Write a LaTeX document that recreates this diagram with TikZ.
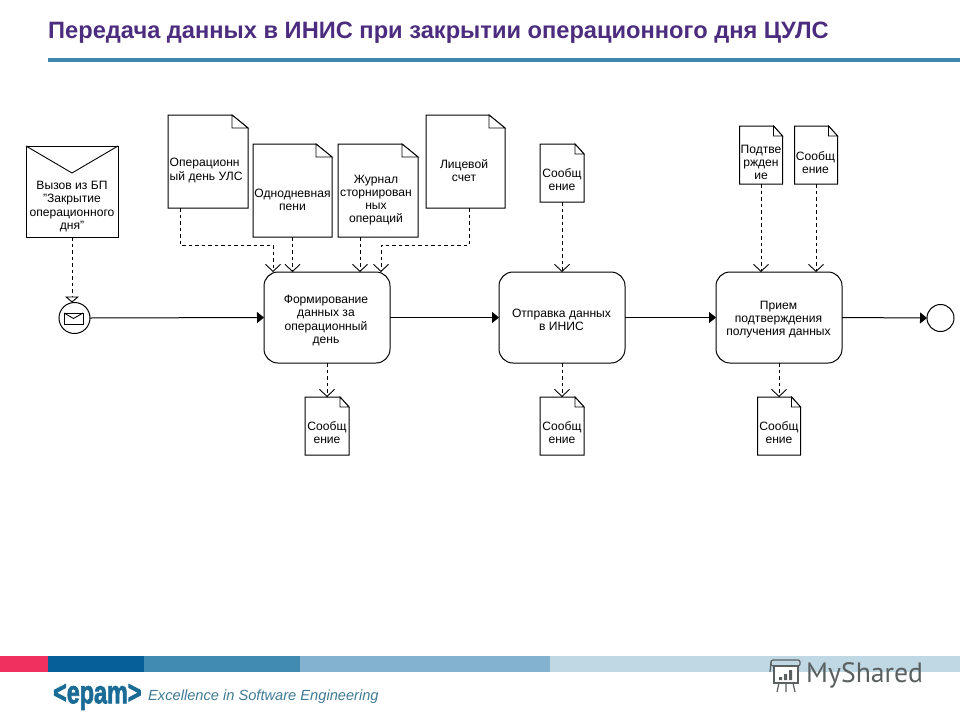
\documentclass[tikz,border=0pt]{standalone}
\usepackage{fontspec}
\setmainfont{Liberation Sans}
\newfontfamily\wmfont{PT Sans}
\newfontfamily\logofont{Liberation Sans Bold}[FakeBold=2.5]
\usetikzlibrary{arrows.meta}
\definecolor{titlepurple}{HTML}{4B2C7E}
\definecolor{rulecol}{HTML}{3F87AD}
\definecolor{barred}{HTML}{F0305F}
\definecolor{barA}{HTML}{05609A}
\definecolor{barB}{HTML}{418AB0}
\definecolor{barC}{HTML}{82B2CF}
\definecolor{barD}{HTML}{C0D8E4}
\definecolor{logoblue}{HTML}{1A6C96}
\definecolor{tagcol}{HTML}{3F7A95}
\definecolor{wmcol}{HTML}{5A5F60}
\tikzset{
  shapeline/.style={draw=black,line width=1pt,fill=white},
  docbody/.style={inner sep=0pt,outer sep=0pt},
  dtext/.style={inner sep=0pt,align=center,font=\fontsize{12.1}{13.1}\selectfont},
  procbox/.style={shapeline,rounded corners=14pt,minimum width=126pt,minimum height=91pt,inner sep=0pt,outer sep=0pt},
  flow/.style={draw=black,line width=1pt,-{Triangle[length=7pt,width=11pt]}},
  assoc/.style={draw=black,line width=0.9pt,dash pattern=on 3.5pt off 3pt,-{Straight Barb[length=7pt,width=15pt]}},
  trig/.style={draw=black,line width=0.9pt,dash pattern=on 3.5pt off 3pt,-{Triangle[open,length=6pt,width=14pt,fill=white]}},
  circlenode/.style={shapeline,circle,inner sep=0pt,outer sep=0pt}
}
% name, cx, cy, w, h, fold w, fold h
\newcommand{\docbox}[7]{%
  \node[docbody,minimum width=#4pt,minimum height=#5pt] (#1) at (#2,#3) {};
  \draw[shapeline,line join=miter] (#1.south west) -- (#1.south east) -- ([yshift=-#7pt]#1.north east) -- ([xshift=-#6pt]#1.north east) -- (#1.north west) -- cycle;
  \draw[line width=0.9pt,fill=white] ([xshift=-#6pt]#1.north east) -- ([xshift=-#6pt,yshift=-#7pt]#1.north east) -- ([yshift=-#7pt]#1.north east) -- cycle;
}
\begin{document}
\begin{tikzpicture}[x=1pt,y=-1pt]
\useasboundingbox (0,0) rectangle (960,720);
% title
\node[anchor=west,inner sep=0pt,text=titlepurple,font=\fontsize{23.65}{26}\selectfont\bfseries] (title) at (48,32.5) {Передача данных в ИНИС при закрытии операционного дня ЦУЛС};
\fill[rulecol] (48,58) rectangle (960,62);
% documents
\docbox{d1}{208}{161.5}{80}{93}{16}{13}
\docbox{d2}{292.5}{190.5}{79}{93}{16}{13}
\docbox{d3}{378}{190.5}{80}{93}{16}{13}
\docbox{d4}{465.5}{161.5}{79}{93}{16}{13}
\docbox{m1}{562}{173}{44}{58}{9}{10}
\docbox{m2}{761}{155}{43}{58}{9}{10}
\docbox{m3}{816}{155}{43}{58}{9}{10}
\docbox{m4}{327}{426}{44}{58}{9}{10}
\docbox{m5}{562}{426}{44}{58}{9}{10}
\docbox{m6}{779}{426}{43}{58}{9}{10}
\node[dtext,align=left,anchor=west] (t1) at (169.5,170.5) {Операционн\\ый день УЛС};
\node[dtext] (t2) at (292.5,199.5) {Однодневная\\пени};
\node[dtext] (t3) at (376,200) {Журнал\\сторнирован\\ных\\операций};
\node[dtext] (t4) at (464,170.5) {Лицевой\\счет};
\node[dtext] (t5) at (562,179.5) {Сообщ\\ение};
\node[dtext] (t6) at (761,162.5) {Подтве\\ржден\\ие};
\node[dtext] (t7) at (815.5,162.5) {Сообщ\\ение};
\node[dtext] (t8) at (327,432.5) {Сообщ\\ение};
\node[dtext] (t9) at (562,432.5) {Сообщ\\ение};
\node[dtext] (t10) at (779,432.5) {Сообщ\\ение};
% envelope
\node[docbody,minimum width=92pt,minimum height=91pt] (env) at (72,191.5) {};
\draw[shapeline,line join=miter] (env.south west) rectangle (env.north east);
\draw[line width=0.9pt] (env.north west) -- (72,173) -- (env.north east);
\node[dtext] (t11) at (72,206.5) {Вызов из БП\\"Закрытие\\операционного\\дня"};
% processes
\node[procbox] (p1) at (327,317.5) {};
\node[procbox] (p2) at (562,317.5) {};
\node[procbox] (p3) at (779,317.5) {};
\node[dtext] (t12) at (326,320.5) {Формирование\\данных за\\операционный\\день};
\node[dtext] (t13) at (561.5,319.5) {Отправка данных\\в ИНИС};
\node[dtext] (t14) at (778.5,319.5) {Прием\\подтверждения\\получения данных};
% events
\node[circlenode,minimum size=31pt] (ev) at (74.5,318) {};
\node[circlenode,minimum size=27pt] (end) at (940.5,318) {};
\node[docbody,draw=black,line width=1pt,minimum width=19pt,minimum height=11pt] (evm) at (73.5,318.5) {};
\draw[line width=0.9pt] (evm.north west) -- (evm.center) -- (evm.north east);
% flows
\draw[flow] (ev.east) -- (p1.west);
\draw[flow] (p1.east) -- (p2.west);
\draw[flow] (p2.east) -- (p3.west);
\draw[flow] (p3.east) -- (end.west);
% associations
\coordinate (j1) at (273,245);
\coordinate (j2) at (381,245);
\draw[trig] (env.south) -- (env.south |- ev.north);
\draw[assoc] ([xshift=-28pt]d1.south) |- (j1) -- (j1 |- p1.north);
\draw[assoc] (d2.south) -- (d2.south |- p1.north);
\draw[assoc] ([xshift=-18pt]d3.south) -- ([xshift=-18pt]d3.south |- p1.north);
\draw[assoc] ([xshift=3.5pt]d4.south) |- (j2) -- (j2 |- p1.north);
\draw[assoc] (m1.south) -- (m1.south |- p2.north);
\draw[assoc] (m2.south) -- (m2.south |- p3.north);
\draw[assoc] (m3.south) -- (m3.south |- p3.north);
\draw[assoc] (p1.south) -- (p1.south |- m4.north);
\draw[assoc] (p2.south) -- (p2.south |- m5.north);
\draw[assoc] (p3.south) -- (p3.south |- m6.north);
% footer bars
\fill[barred] (0,656) rectangle (48,672);
\fill[barA] (48,656) rectangle (144,672);
\fill[barB] (144,656) rectangle (300,672);
\fill[barC] (300,656) rectangle (550,672);
\fill[barD] (550,656) rectangle (960,672);
% logo and tagline
\node[anchor=west,inner sep=0pt,text=logoblue,xscale=0.73,font=\fontsize{32}{34}\selectfont\logofont] (logo) at (53,697) {<epam>};
\node[anchor=west,inner sep=0pt,text=tagcol,font=\fontsize{14.65}{16}\selectfont\itshape] (tag) at (148,697) {Excellence in Software Engineering};
% watermark
\node[anchor=west,inner sep=0pt,text=wmcol,xscale=0.99,font=\fontsize{28}{30}\selectfont\wmfont] (wm) at (806,675) {MyShared};
\draw[wmcol,line width=1.2pt,rounded corners=2pt,fill=barD] (771,660) rectangle (800,666);
\draw[wmcol,line width=1.2pt] (771,662) -- (770,672);
\draw[wmcol,line width=1.2pt,fill=white] (774,666) rectangle (798,683);
\draw[wmcol,line width=1.2pt] (779,683) -- (777,692) (786,683) -- (786,692) (793,683) -- (795,692);
\fill[wmcol] (779,677) rectangle (782,680) (784,674) rectangle (787,680) (789,670) rectangle (792,680);
\end{tikzpicture}
\end{document}
